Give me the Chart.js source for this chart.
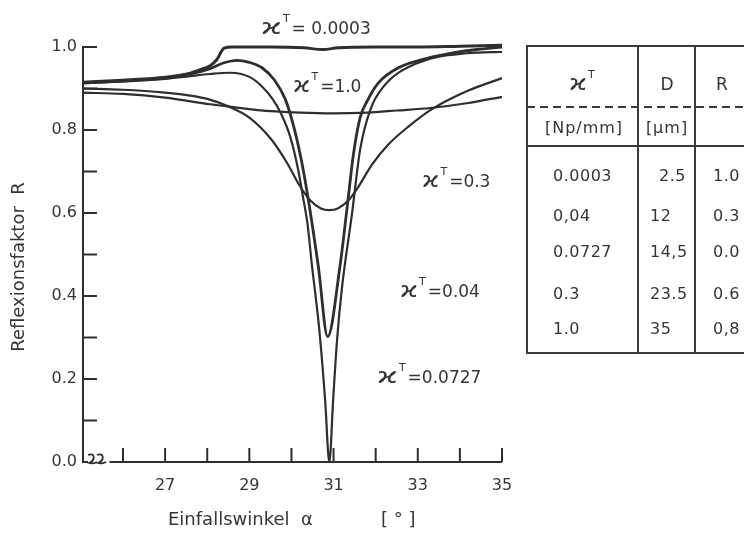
<!DOCTYPE html>
<html>
<head>
<meta charset="utf-8">
<script src="https://cdn.jsdelivr.net/npm/chart.js@4.4.0/dist/chart.umd.min.js"></script>
<style>
html, body { margin: 0; padding: 0; background: #fff; }
#wrap { width: 744px; height: 533px; }
</style>
</head>
<body>
<div id="wrap"><canvas id="chart" width="744" height="533"></canvas></div>
<script>
// curves R(alpha)
const k0003_x = [25.05, 26, 27, 27.6, 27.9, 28.07, 28.23, 28.4, 28.6, 29.5, 30.3, 30.75, 31.1, 32, 33, 34, 35];
const k0003_y = [0.915, 0.92, 0.927, 0.937, 0.948, 0.955, 0.97, 0.997, 1.0, 1.0, 0.998, 0.994, 0.998, 1.0, 1.0, 1.002, 1.004];

const k004_x = [25.05, 26, 27, 27.6, 28.07, 28.4, 28.7, 29.0, 29.3, 29.6, 29.85, 30.05, 30.25, 30.42, 30.64, 30.86, 31.15, 31.33, 31.47, 31.63, 31.8, 32.06, 32.58, 33.2, 33.8, 34.4, 35];
const k004_y = [0.913, 0.918, 0.925, 0.935, 0.948, 0.962, 0.968, 0.963, 0.95, 0.92, 0.875, 0.81, 0.72, 0.62, 0.47, 0.302, 0.47, 0.62, 0.74, 0.83, 0.87, 0.913, 0.952, 0.972, 0.985, 0.994, 1.0];

const k0727_x = [25.05, 26, 27, 27.6, 28.07, 28.54, 29.0, 29.3, 29.55, 29.75, 29.97, 30.16, 30.28, 30.38, 30.48, 30.66, 30.8, 30.9, 30.99, 31.08, 31.2, 31.44, 31.63, 31.87, 32.18, 32.98, 34.17, 35];
const k0727_y = [0.913, 0.917, 0.923, 0.93, 0.935, 0.938, 0.928, 0.905, 0.875, 0.84, 0.784, 0.704, 0.635, 0.575, 0.48, 0.32, 0.149, 0.0, 0.149, 0.29, 0.42, 0.6, 0.752, 0.848, 0.904, 0.961, 0.985, 0.988];

const k03_x = [25.05, 26, 27, 27.6, 28.0, 28.5, 29.0, 29.5, 29.9, 30.2, 30.45, 30.7, 30.9, 31.1, 31.35, 31.6, 31.9, 32.3, 32.8, 33.3, 34.2, 35];
const k03_y = [0.90, 0.897, 0.89, 0.883, 0.875, 0.857, 0.83, 0.78, 0.72, 0.665, 0.63, 0.611, 0.607, 0.611, 0.63, 0.665, 0.715, 0.765, 0.81, 0.848, 0.895, 0.925];

const k10_x = [25.05, 26, 27, 28.07, 28.47, 29.2, 30.2, 31.0, 31.8, 32.5, 33.3, 34.2, 35];
const k10_y = [0.89, 0.887, 0.878, 0.862, 0.857, 0.848, 0.842, 0.840, 0.842, 0.847, 0.853, 0.865, 0.88];

// axes
const xTicks = [26, 27, 28, 29, 30, 31, 32, 33, 34, 35];
const xLabels = [27, 29, 31, 33, 35];
const yMarks = [0.1, 0.2, 0.3, 0.4, 0.5, 0.6, 0.7, 0.8, 0.9, 1.0];

// curve labels (text after the kappa^T)
const curveLabels = ['= 0.0003', '=1.0', '=0.3', '=0.04', '=0.0727'];

// table on the right
const tabKappa = ['0.0003', '0,04', '0.0727', '0.3', '1.0'];
const tabD = ['2.5', '12', '14,5', '23.5', '35'];
const tabR = ['1.0', '0.3', '0.0', '0.6', '0,8'];

const ink = '#2e2e2e';
const txt = '#353535';
const fam = '"DejaVu Sans"';

function pts(xs, ys) {
    return xs.map((x, i) => ({x: x, y: ys[i]}));
}

function curve(xs, ys, w) {
    return {
        data: pts(xs, ys),
        borderColor: ink,
        borderWidth: w,
        pointRadius: 0,
        fill: false,
        cubicInterpolationMode: 'monotone',
        clip: 6
    };
}

// draws "kappa^T" followed by rest, returns nothing
function kappa(ctx, x, y, rest, size, stretch) {
    ctx.textAlign = 'left';
    ctx.textBaseline = 'middle';
    ctx.font = '21px ' + fam;
    let w = ctx.measureText('ϰ').width * stretch;
    ctx.save();
    ctx.translate(x, y);
    ctx.scale(stretch, 1);
    ctx.fillText('ϰ', 0, 0);
    ctx.restore();
    ctx.font = '11px ' + fam;
    ctx.fillText('T', x + w + 1, y - 10);
    let wT = ctx.measureText('T').width;
    ctx.font = size + 'px ' + fam;
    ctx.fillText(rest, x + w + wT + 3, y + 1);
}

function seg(ctx, x1, y1, x2, y2) {
    ctx.beginPath();
    ctx.moveTo(x1, y1);
    ctx.lineTo(x2, y2);
    ctx.stroke();
}

const decor = {
    id: 'decor',
    afterDraw(chart) {
        const ctx = chart.ctx;
        const xs = chart.scales.x, ys = chart.scales.y;
        const a = chart.chartArea;
        ctx.save();
        ctx.strokeStyle = ink;
        ctx.lineWidth = 2;
        ctx.lineCap = 'butt';

        // inward tick marks
        yMarks.forEach(v => {
            const py = ys.getPixelForValue(v);
            seg(ctx, a.left, py, a.left + 14, py);
        });
        xTicks.forEach(v => {
            const px = xs.getPixelForValue(v);
            seg(ctx, px, a.bottom, px, a.bottom - 14);
        });

        // x axis with break
        seg(ctx, xs.getPixelForValue(25.68), a.bottom, a.right, a.bottom);
        seg(ctx, a.left - 1, a.bottom, a.left + 5, a.bottom);
        ctx.lineWidth = 1.8;
        [91, 100].forEach(cx => {
            ctx.beginPath();
            ctx.moveTo(cx - 3, a.bottom - 7);
            ctx.bezierCurveTo(cx + 4, a.bottom - 10, cx + 5, a.bottom - 2, cx - 2, a.bottom + 1);
            ctx.bezierCurveTo(cx + 1, a.bottom + 2, cx + 4, a.bottom + 1, cx + 6, a.bottom);
            ctx.stroke();
        });

        // axis titles
        ctx.fillStyle = txt;
        ctx.font = '18px ' + fam;
        ctx.textBaseline = 'middle';
        ctx.textAlign = 'left';
        ctx.fillText('Einfallswinkel  α', 168, 520);
        ctx.fillText('[ ° ]', 381, 520);
        ctx.save();
        ctx.translate(19, 267);
        ctx.rotate(-Math.PI / 2);
        ctx.textAlign = 'center';
        ctx.fillText('Reflexionsfaktor  R', 0, 0);
        ctx.restore();

        // curve labels
        const lp = [[261, 29, 1.5], [293, 87, 1.25], [422, 182, 1.25], [400, 292, 1.3], [377, 378, 1.5]];
        curveLabels.forEach((t, i) => kappa(ctx, lp[i][0], lp[i][1], t, 17, lp[i][2]));

        // table
        ctx.lineWidth = 2;
        ctx.strokeStyle = '#3a3a3a';
        ctx.strokeRect(527, 46, 260, 307);
        seg(ctx, 638, 46, 638, 353);
        seg(ctx, 695, 46, 695, 353);
        seg(ctx, 527, 146, 744, 146);
        ctx.setLineDash([8, 5]);
        seg(ctx, 527, 107, 744, 107);
        ctx.setLineDash([]);

        kappa(ctx, 569, 85, '', 17, 1.3);
        ctx.font = '17px ' + fam;
        ctx.textAlign = 'center';
        ctx.textBaseline = 'middle';
        ctx.fillText('D', 667, 86);
        ctx.fillText('R', 722, 86);
        ctx.font = '16px ' + fam;
        ctx.letterSpacing = '1px';
        ctx.fillText('[Np/mm]', 584, 129);
        ctx.fillText('[µm]', 667, 129);

        const rowY = [177, 217, 253, 295, 330];
        ctx.font = '16px ' + fam;
        ctx.letterSpacing = '0.5px';
        ctx.textAlign = 'left';
        tabKappa.forEach((t, i) => ctx.fillText(t, 553, rowY[i]));
        tabD.forEach((t, i) => ctx.fillText(t, i === 0 ? 659 : 650, rowY[i]));
        tabR.forEach((t, i) => ctx.fillText(t, 713, rowY[i]));
        ctx.letterSpacing = '0px';

        ctx.restore();
    }
};

const chart = new Chart(document.getElementById('chart').getContext('2d'), {
    type: 'line',
    data: {
        datasets: [
            curve(k0003_x, k0003_y, 3),
            curve(k004_x, k004_y, 2.8),
            curve(k0727_x, k0727_y, 2.2),
            curve(k03_x, k03_y, 2.2),
            curve(k10_x, k10_y, 2.2)
        ]
    },
    options: {
        responsive: false,
        animation: false,
        events: [],
        layout: {
            padding: {top: 47, right: 242, left: 0, bottom: 0}
        },
        plugins: {
            legend: {display: false},
            tooltip: {enabled: false},
            title: {display: false}
        },
        scales: {
            x: {
                type: 'linear',
                min: 25.05,
                max: 35,
                afterFit: (s) => { s.height = 71; },
                afterBuildTicks: (s) => { s.ticks = xTicks.map(v => ({value: v})); },
                grid: {display: false, drawTicks: false},
                border: {display: false},
                ticks: {
                    autoSkip: false,
                    maxRotation: 0,
                    padding: 14,
                    color: txt,
                    font: {family: 'DejaVu Sans', size: 16},
                    callback: (v) => xLabels.includes(v) ? String(v) : ''
                }
            },
            y: {
                min: 0,
                max: 1,
                afterFit: (s) => { s.width = 83; },
                grid: {display: false, drawTicks: false},
                border: {display: true, color: ink, width: 2},
                ticks: {
                    stepSize: 0.2,
                    padding: 6,
                    color: txt,
                    font: {family: 'DejaVu Sans', size: 16},
                    callback: (v) => v.toFixed(1)
                }
            }
        }
    },
    plugins: [decor]
});
</script>
</body>
</html>
